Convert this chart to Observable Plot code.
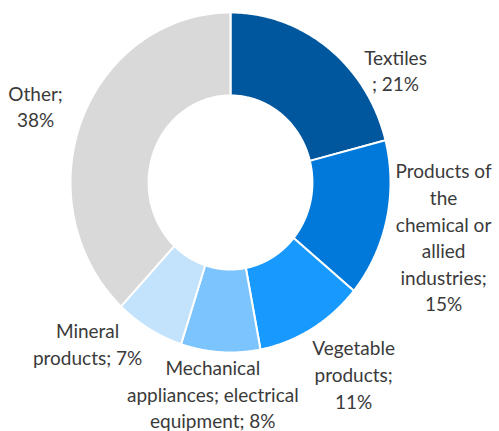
<!DOCTYPE html>
<html><head><meta charset="utf-8">
<script src="https://cdn.jsdelivr.net/npm/d3@7"></script>
<script src="https://cdn.jsdelivr.net/npm/@observablehq/plot@0.6"></script>
<style>body{margin:0;background:#fff}</style>
</head><body><div id="chart"></div>
<script>
const categories = ["Textiles", "Products of the chemical or allied industries", "Vegetable products", "Mechanical appliances; electrical equipment", "Mineral products", "Other"];
const shares = [21, 15, 11, 8, 7, 38];
const labelTexts = ["Textiles\n; 21%", "Products of\nthe\nchemical or\nallied\nindustries;\n15%", "Vegetable\nproducts;\n11%", "Mechanical\nappliances; electrical\nequipment; 8%", "Mineral\nproducts; 7%", "Other;\n38%"];
const colors = ["#01579e", "#0179da", "#1799fd", "#7cc4fd", "#c3e3fd", "#d9d9d9"];
// label layout: angle shift (deg) from slice mid-angle, radius (relative to outer radius)
const labelAngleShift = [19.4, 0.8, -3.8, 1.5, 12.8, -1.2];
const labelRadius = [1.227, 1.369, 1.362, 1.245, 1.30, 1.30];

const outerR = 1, innerR = 0.512;
const total = d3.sum(shares);
const ring = [];
const labels = [];
let cum = 0;
categories.forEach((name, i) => {
  const a0 = cum / total * 2 * Math.PI;
  cum += shares[i];
  const a1 = cum / total * 2 * Math.PI;
  const N = 120;
  for (let k = 0; k <= N; k++) {
    const a = a0 + (a1 - a0) * k / N;
    ring.push({name, x: outerR * Math.sin(a), y: outerR * Math.cos(a)});
  }
  for (let k = N; k >= 0; k--) {
    const a = a0 + (a1 - a0) * k / N;
    ring.push({name, x: innerR * Math.sin(a), y: innerR * Math.cos(a)});
  }
  const am = (a0 + a1) / 2 + labelAngleShift[i] * Math.PI / 180;
  labels.push({text: labelTexts[i], x: labelRadius[i] * Math.sin(am), y: labelRadius[i] * Math.cos(am)});
});

const chart = Plot.plot({
  width: 499, height: 431, margin: 0,
  x: {domain: [-230/160, 269/160], axis: null},
  y: {domain: [(182-431)/170, 182/170], axis: null},
  color: {domain: categories, range: colors},
  style: {fontFamily: "Lato", background: "#fff"},
  marks: [
    Plot.line(ring, {x: "x", y: "y", z: "name", fill: "name", stroke: "white", strokeWidth: 2, curve: "linear-closed"}),
    Plot.text(labels, {x: "x", y: "y", text: "text", fontSize: 19, lineHeight: 1.4, fill: "#3a3a3a", textAnchor: "middle"})
  ]
});
document.getElementById("chart").append(chart);
</script>
</body></html>
